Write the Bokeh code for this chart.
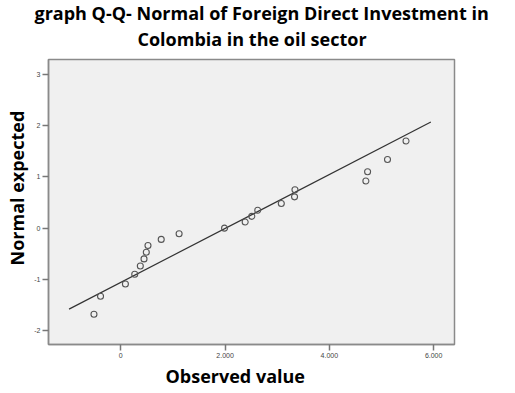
from bokeh.plotting import figure
from bokeh.models import Range1d, FixedTicker, Title
from bokeh.embed import file_html
from bokeh.resources import INLINE

# Observed values (x) and expected normal values (y)
observed = [-515, -389, 88, 267, 374, 445, 489, 521, 775, 1118, 1990,
            2385, 2512, 2626, 3078, 3332, 3340, 4700, 4733, 5115, 5470]
expected = [-1.68, -1.33, -1.09, -0.90, -0.74, -0.60, -0.47, -0.34, -0.22, -0.11, 0.0,
            0.12, 0.23, 0.35, 0.48, 0.61, 0.75, 0.92, 1.10, 1.34, 1.70]

# Reference line endpoints
line_x = [-993, 5947]
line_y = [-1.58, 2.07]

x_ticks = [0, 2000, 4000, 6000]
x_tick_labels = ["0", "2.000", "4.000", "6.000"]
y_ticks = [-2, -1, 0, 1, 2, 3]
y_tick_labels = ["-2", "-1", "0", "1", "2", "3"]

title_line1 = "graph Q-Q- Normal of Foreign Direct Investment in"
title_line2 = "Colombia in the oil sector"
x_label = "Observed value"
y_label = "Normal expected"

FONT = "Open Sans"

p = figure(width=515, height=393, output_backend="svg", toolbar_location=None,
           x_range=Range1d(-1387, 6400), y_range=Range1d(-2.27, 3.29),
           min_border_left=46, min_border_right=61, min_border_top=59, min_border_bottom=49)

p.border_fill_color = "white"
p.background_fill_color = "#f0f0f0"
p.outline_line_color = "#8a8a8a"
p.outline_line_width = 1.5
p.xgrid.visible = False
p.ygrid.visible = False
p.title.visible = False

for ax in (p.xaxis[0], p.yaxis[0]):
    ax.axis_line_color = "#8a8a8a"
    ax.axis_line_width = 1.5
    ax.major_tick_line_color = "#777777"
    ax.major_tick_line_width = 1.5
    ax.major_tick_in = 0
    ax.major_tick_out = 6
    ax.minor_tick_line_color = None
    ax.major_label_text_font = "Liberation Sans"
    ax.major_label_text_font_size = "7px"
    ax.major_label_text_color = "#444444"
    ax.major_label_standoff = 2

p.xaxis.ticker = FixedTicker(ticks=x_ticks)
p.xaxis.major_label_overrides = dict(zip(x_ticks, x_tick_labels))
p.yaxis.ticker = FixedTicker(ticks=y_ticks)
p.yaxis.major_label_overrides = dict(zip(y_ticks, y_tick_labels))

p.line(line_x, line_y, line_color="#333333", line_width=1.2)
p.scatter(observed, expected, marker="circle", size=6, fill_color=None,
          line_color="#555555", line_width=1.1)

tstyle = dict(text_font=FONT, text_font_style="bold", text_color="black",
              text_font_size="18px", align="left")
p.add_layout(Title(text=title_line2, offset=89, standoff=17, **tstyle), "above")
p.add_layout(Title(text=title_line1, offset=-14, standoff=-17, **tstyle), "above")
p.add_layout(Title(text=x_label, offset=117, standoff=3, **tstyle), "below")
p.add_layout(Title(text=y_label, offset=79, standoff=5, **tstyle), "left")

open("out.html", "w").write(file_html(p, INLINE))
